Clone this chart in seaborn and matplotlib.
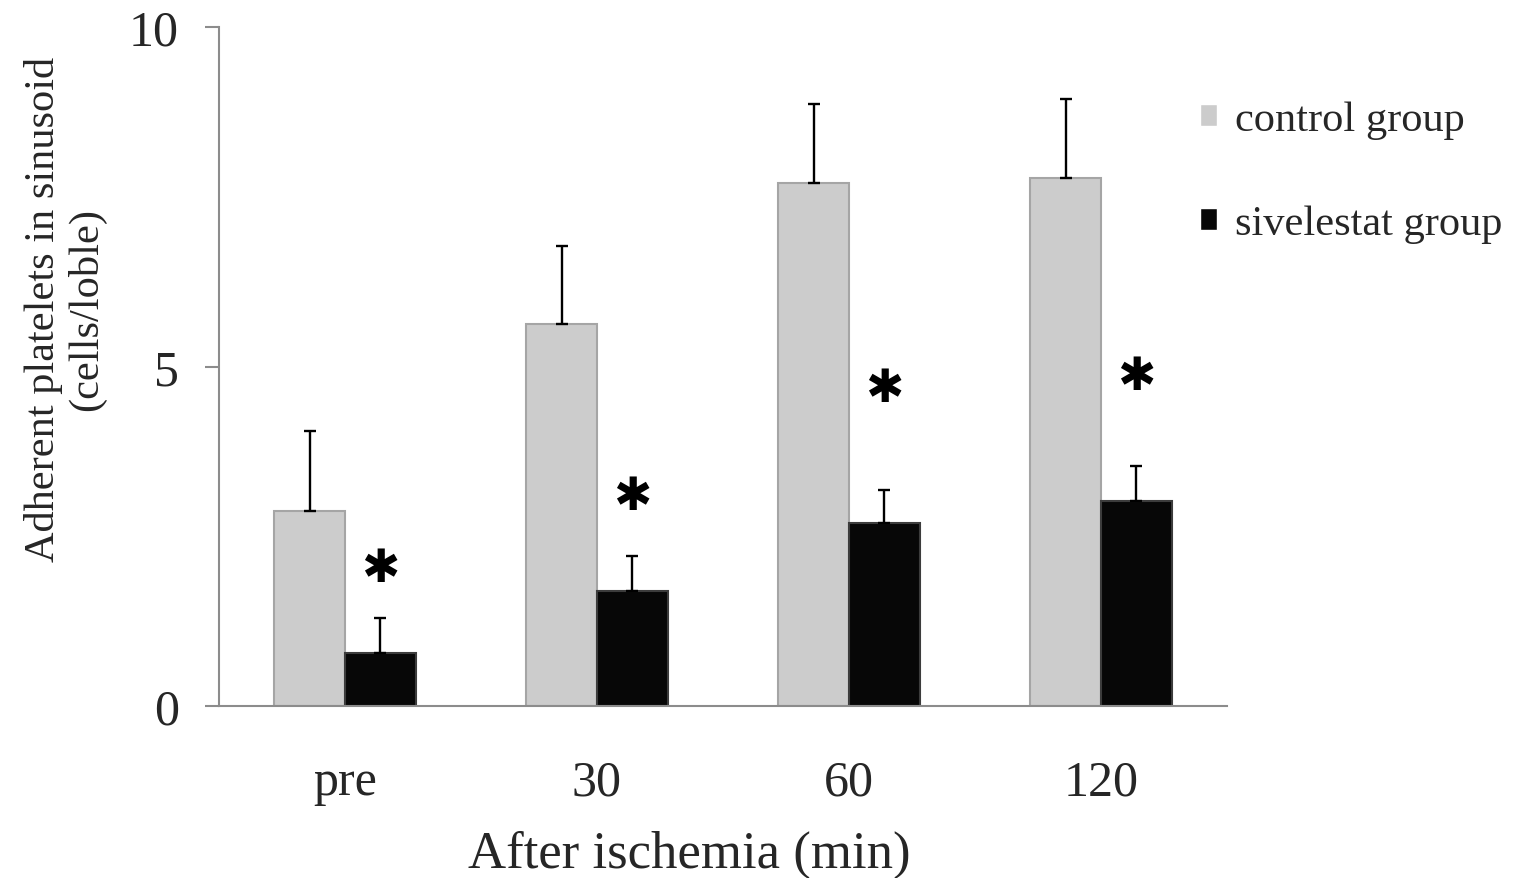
import pandas as pd
import matplotlib
matplotlib.use("Agg")
import matplotlib.pyplot as plt
import seaborn as sns

# data
times = ["pre", "30", "60", "120"]
groups = ["control group", "sivelestat group"]
control_mean = [2.87, 5.63, 7.70, 7.78]
control_sd = [1.18, 1.14, 1.17, 1.16]
sivelestat_mean = [0.78, 1.69, 2.70, 3.02]
sivelestat_sd = [0.52, 0.52, 0.48, 0.51]
star_y = [2.02, 3.09, 4.67, 4.86]

df = pd.DataFrame({
    "time": times * 2,
    "group": [groups[0]] * 4 + [groups[1]] * 4,
    "value": control_mean + sivelestat_mean,
    "sd": control_sd + sivelestat_sd,
})

sns.set_style("white")
plt.rcParams["font.family"] = ["Liberation Serif", "DejaVu Serif"]

fig = plt.figure(figsize=(15.14, 8.79), dpi=100)
ax = fig.add_axes([219 / 1514, 1 - 707 / 879, 1008 / 1514, 679 / 879])

colors = {"control group": "#cccccc", "sivelestat group": "#070707"}
sns.barplot(data=df, x="time", y="value", hue="group", order=times,
            hue_order=groups, palette=colors, width=0.56, gap=0,
            errorbar=None, saturation=1, ax=ax)

# edges + one-sided error bars, positions taken from the drawn bars
edge = {"control group": "#a5a5a5", "sivelestat group": "#3c3c3c"}
for cont, g in zip(ax.containers, groups):
    sub = df[df["group"] == g]
    xs = [p.get_x() + p.get_width() / 2 for p in cont.patches]
    for p in cont.patches:
        p.set_edgecolor(edge[g])
        p.set_linewidth(1.5)
    ax.errorbar(xs, sub["value"], yerr=[[0] * len(xs), sub["sd"]],
                fmt="none", ecolor="black", elinewidth=1.7,
                capsize=4.3, capthick=1.7, zorder=3)
    if g == "sivelestat group":
        for x, y in zip(xs, star_y):
            ax.text(x, y, "\u2731", ha="center", va="center", fontsize=33,
                    family=["DejaVu Sans"], color="black")

ax.set_ylim(0, 10)
ax.set_xlim(-0.5, 3.5)
ax.set_yticks([0, 5, 10])
ax.tick_params(axis="y", direction="out", length=10, width=1.5,
               color="#8c8c8c", pad=19, labelsize=36, left=True)
ax.tick_params(axis="x", length=0, pad=38, labelsize=36)

for s in ["top", "right"]:
    ax.spines[s].set_visible(False)
for s in ["left", "bottom"]:
    ax.spines[s].set_color("#8c8c8c")
    ax.spines[s].set_linewidth(1.5)

ax.set_xlabel("After ischemia (min)", fontsize=38, va="center")
ax.xaxis.set_label_coords(0.467, -0.218)
ax.set_ylabel("Adherent platelets in sinusoid\n(cells/loble)", fontsize=30.5,
              va="center", linespacing=1.15)
ax.yaxis.set_label_coords(-0.153, 0.585)

handles, labels = ax.get_legend_handles_labels()
ax.legend(handles, labels, loc="center left",
          bbox_to_anchor=(1200 / 1514, 1 - 173 / 879),
          bbox_transform=fig.transFigure, frameon=False, fontsize=30.5,
          handlelength=0.4, handleheight=0.4, handletextpad=0.43,
          labelspacing=1.55, borderpad=0, borderaxespad=0)

fig.savefig("out.png", dpi=100)
